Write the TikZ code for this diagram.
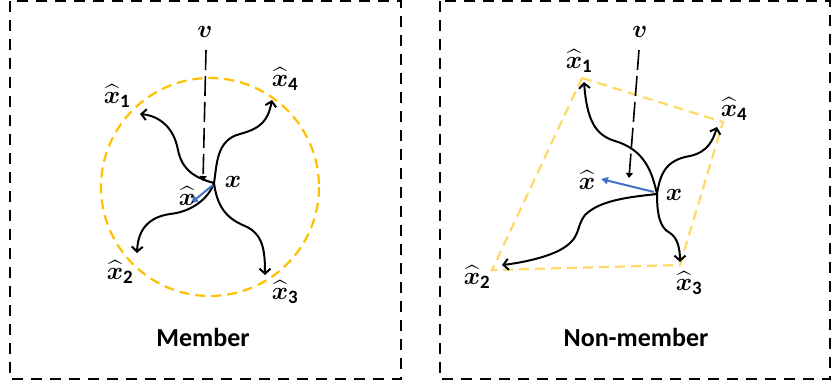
\documentclass[tikz,border=0pt]{standalone}
\usepackage{fontspec}
\usepackage{amsmath,bm}
\setmainfont{Carlito}
\usetikzlibrary{arrows.meta}
\definecolor{circcol}{HTML}{FFC000}
\definecolor{polycol}{HTML}{FFD966}
\definecolor{bluecol}{HTML}{4472C4}
\tikzset{
  frame/.style={draw=black, line width=2pt, dash pattern=on 11pt off 8pt},
  hull/.style={line width=2.2pt, dash pattern=on 10pt off 6pt},
  curv/.style={draw=black, line width=2pt, -{Straight Barb[length=5pt,width=11pt,line width=2pt]}},
  vline/.style={draw=black, line width=1.6pt, dash pattern=on 20pt off 6pt, -{Triangle[length=5pt,width=7pt]}},
  bluearr/.style={draw=bluecol, line width=2pt, -{Triangle[length=7pt,width=7pt]}},
  mlab/.style={font=\fontsize{27}{27}\selectfont, inner sep=0pt},
  tlab/.style={font=\fontsize{26}{26}\selectfont\bfseries, inner sep=0pt}
}
\newcommand{\xh}{\bm{\widehat{x}}}
\begin{document}
\begin{tikzpicture}[x=1pt,y=-1pt]
\useasboundingbox (0,0) rectangle (831,381);
% frames
\draw[frame] (10,1) rectangle (401,379);
\draw[frame] (440,1) rectangle (830,379);
% ---------- left panel ----------
\draw[hull, draw=circcol] (210,187) circle (109);
\coordinate (C1) at (214,183);
\coordinate (T1) at (140,114);
\coordinate (T2) at (137,253);
\coordinate (T3) at (265,275);
\coordinate (T4) at (272,100);
\coordinate (V1s) at (206,50);
\coordinate (V1e) at (203,181);
\coordinate (B1s) at (213,185);
\coordinate (B1e) at (191,203);
\draw[vline] (V1s) -- (V1e);
\draw[curv] (C1) .. controls (195,178) and (182,170) .. (178,150) .. controls (174,128) and (160,116) .. (T1);
\draw[curv] (C1) .. controls (217,165) and (216,140) .. (240,134) .. controls (262,128) and (268,120) .. (T4);
\draw[curv] (C1) .. controls (208,200) and (190,212) .. (170,214) .. controls (150,217) and (138,228) .. (T2);
\draw[curv] (C1) .. controls (217,205) and (225,218) .. (245,226) .. controls (263,234) and (265,250) .. (T3);
\draw[bluearr] (B1s) -- (B1e);
\node[mlab] (lv) at (205,32) {$\bm{v}$};
\node[mlab] (lx1) at (117,96) {$\xh_{\mathbf{1}}$};
\node[mlab] (lx4) at (285,79) {$\xh_{\mathbf{4}}$};
\node[mlab] (lx2) at (120,272) {$\xh_{\mathbf{2}}$};
\node[mlab] (lx3) at (285,292) {$\xh_{\mathbf{3}}$};
\node[mlab] (lx) at (233,182) {$\bm{x}$};
\node[mlab] (lxh) at (187,196) {$\xh$};
\node[tlab] (mem) at (203,337) {Member};
% ---------- right panel ----------
\coordinate (P1) at (582,78);
\coordinate (P4) at (723,122);
\coordinate (P3) at (680,265);
\coordinate (P2) at (492,270);
\draw[hull, draw=polycol] (P1) -- (P4) -- (P3) -- (P2) -- cycle;
\coordinate (C2) at (657,194);
\coordinate (S1) at (584,82);
\coordinate (S2) at (502,265);
\coordinate (S3) at (680,262);
\coordinate (S4) at (717,127);
\coordinate (V2s) at (639,50);
\coordinate (V2e) at (629,178);
\coordinate (B2s) at (654,192);
\coordinate (B2e) at (601,179);
\draw[vline] (V2s) -- (V2e);
\draw[curv] (C2) .. controls (652,172) and (645,150) .. (615,141) .. controls (595,135) and (587,120) .. (S1);
\draw[curv] (C2) .. controls (660,175) and (665,160) .. (690,156) .. controls (708,152) and (713,140) .. (S4);
\draw[curv] (C2) .. controls (657,215) and (660,228) .. (670,233) .. controls (678,238) and (680,250) .. (S3);
\draw[curv] (C2) .. controls (630,197) and (600,200) .. (585,215) .. controls (575,228) and (582,238) .. (560,250) .. controls (545,258) and (520,263) .. (S2);
\draw[bluearr] (B2s) -- (B2e);
\node[mlab] (rv) at (640,32) {$\bm{v}$};
\node[mlab] (rx1) at (579,61) {$\xh_{\mathbf{1}}$};
\node[mlab] (rx4) at (734,109) {$\xh_{\mathbf{4}}$};
\node[mlab] (rx2) at (477,277) {$\xh_{\mathbf{2}}$};
\node[mlab] (rx3) at (689,283) {$\xh_{\mathbf{3}}$};
\node[mlab] (rx) at (674,195) {$\bm{x}$};
\node[mlab] (rxh) at (587,180) {$\xh$};
\node[tlab] (nonmem) at (636,337) {Non-member};
\end{tikzpicture}
\end{document}
